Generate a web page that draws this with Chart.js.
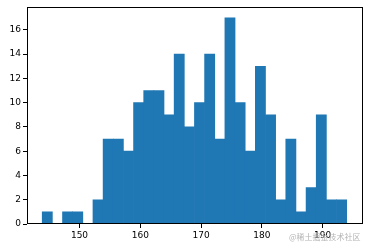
<!DOCTYPE html>
<html>
<head>
<meta charset="utf-8">
<script src="https://cdn.jsdelivr.net/npm/chart.js@4"></script>
<style>
  html, body { margin: 0; padding: 0; background: #fff; }
  #wrap { position: relative; width: 368px; height: 248px; }
  #mark { position: absolute; left: 289px; top: 231px; font: 8px "Noto Sans CJK SC", sans-serif; color: #b4b4b4; white-space: nowrap; }
</style>
</head>
<body>
<div id="wrap">
  <canvas id="myChart" width="368" height="248"></canvas>
  <div id="mark">@稀土掘金技术社区</div>
</div>
<script>
// bin centres of the histogram (30 bins)
const binCenters = [144.70, 146.37, 148.04, 149.71, 151.38, 153.05, 154.72, 156.39, 158.06, 159.73,
                    161.40, 163.07, 164.74, 166.41, 168.08, 169.75, 171.42, 173.09, 174.76, 176.43,
                    178.10, 179.77, 181.44, 183.11, 184.78, 186.45, 188.12, 189.79, 191.46, 193.13];
// counts per bin
const counts = [1, 0, 1, 1, 0, 2, 7, 7, 6, 10,
                11, 11, 9, 14, 8, 10, 14, 7, 17, 10,
                6, 13, 9, 2, 7, 1, 3, 9, 2, 2];
const xTicks = [150, 160, 170, 180, 190];
const yTicks = [0, 2, 4, 6, 8, 10, 12, 14, 16];

// matplotlib style box round the plot area
const frame = {
    id: 'frame',
    afterDraw(chart) {
        const a = chart.chartArea;
        const c = chart.ctx;
        c.save();
        c.strokeStyle = '#000';
        c.lineWidth = 1;
        c.strokeRect(Math.round(a.left) + 0.5, Math.round(a.top) + 0.5,
                     Math.round(a.right - a.left) - 1, Math.round(a.bottom - a.top) - 1);
        c.restore();
    }
};

const tickFont = { family: 'DejaVu Sans', size: 9 };

const ctx = document.getElementById('myChart').getContext('2d');
const myChart = new Chart(ctx, {
    type: 'bar',
    data: {
        datasets: [{
            data: binCenters.map((x, i) => ({ x: x, y: counts[i] })),
            backgroundColor: '#1f77b4',
            borderWidth: 0,
            barPercentage: 1.0,
            categoryPercentage: 1.0
        }]
    },
    options: {
        responsive: false,
        animation: false,
        layout: { padding: { top: 6, right: 5, left: 0, bottom: 0 } },
        plugins: { legend: { display: false }, tooltip: { enabled: false } },
        scales: {
            x: {
                type: 'linear',
                offset: false,
                min: 141.36,
                max: 196.65,
                afterBuildTicks: s => { s.ticks = xTicks.map(v => ({ value: v })); },
                afterFit: s => { s.height = 24; },
                grid: { offset: false, drawOnChartArea: false, drawTicks: true, tickLength: 4, color: '#000' },
                border: { display: false },
                ticks: { font: tickFont, color: '#000', padding: 2, maxRotation: 0 }
            },
            y: {
                min: 0,
                max: 17.85,
                afterBuildTicks: s => { s.ticks = yTicks.map(v => ({ value: v })); },
                afterFit: s => { s.width = 27; },
                grid: { drawOnChartArea: false, drawTicks: true, tickLength: 4, color: '#000' },
                border: { display: false },
                ticks: { font: tickFont, color: '#000', padding: 2 }
            }
        }
    },
    plugins: [frame]
});
</script>
</body>
</html>
